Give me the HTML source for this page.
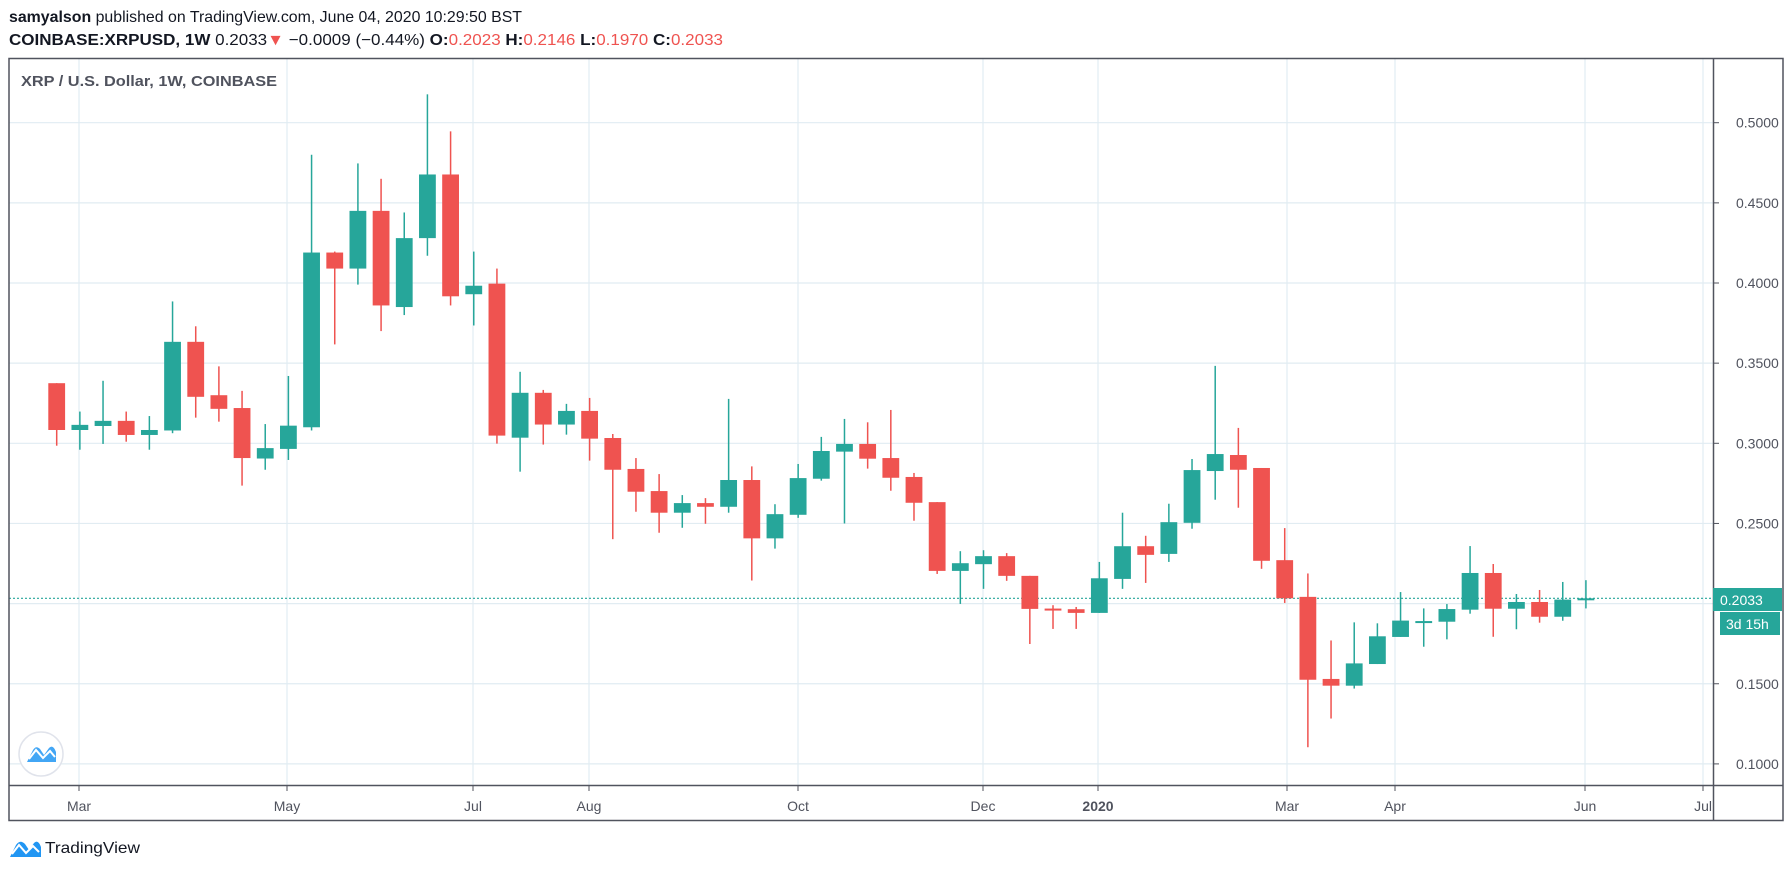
<!DOCTYPE html>
<html><head><meta charset="utf-8"><style>
html,body{margin:0;padding:0;background:#fff;width:1792px;height:871px;overflow:hidden}
svg text{font-family:"Liberation Sans",sans-serif}
</style></head><body>
<svg id="s" width="1792" height="871" xmlns="http://www.w3.org/2000/svg">
<text x="9" y="22" font-size="16" fill="#131722" textLength="513" lengthAdjust="spacingAndGlyphs"><tspan font-weight="bold">samyalson</tspan> published on TradingView.com, June 04, 2020 10:29:50 BST</text>
<text x="9" y="45" font-size="16" fill="#131722" textLength="714" lengthAdjust="spacingAndGlyphs"><tspan font-weight="bold">COINBASE:XRPUSD, 1W</tspan> 0.2033<tspan fill="#ef5350">▼</tspan> −0.0009 (−0.44%) <tspan font-weight="bold">O:</tspan><tspan fill="#ef5350">0.2023</tspan> <tspan font-weight="bold">H:</tspan><tspan fill="#ef5350">0.2146</tspan> <tspan font-weight="bold">L:</tspan><tspan fill="#ef5350">0.1970</tspan> <tspan font-weight="bold">C:</tspan><tspan fill="#ef5350">0.2033</tspan></text>
<g id="grid"></g>
<g id="c"></g>
<text x="21" y="86" font-size="15" font-weight="bold" fill="#50535e" textLength="256" lengthAdjust="spacingAndGlyphs">XRP / U.S. Dollar, 1W, COINBASE</text>
<rect x="9" y="58.5" width="1774" height="762" fill="none" stroke="#50535e" stroke-width="1.5"/>
<line x1="1713.5" y1="58" x2="1713.5" y2="821" stroke="#50535e" stroke-width="1.5"/>
<line x1="9" y1="785.5" x2="1783" y2="785.5" stroke="#50535e" stroke-width="1.5"/>
<circle cx="41" cy="754" r="22" fill="#fff" stroke="#e0e3eb" stroke-width="1.5"/>
<path d="M27 762 L33 750 Q36 745 40 749 L44 755 L49 748 Q53 744 56 752 L56 762 Z" fill="#2196f3" opacity="0.85"/>
<path d="M29 759 L36 750 L43 758 L50 751 L55 757" fill="none" stroke="#fff" stroke-width="2"/>
<path d="M10 857 L16 845 Q20 839 25 844 L29 850 L34 843 Q38 839 41 847 L41 857 Z" fill="#2196f3"/>
<path d="M12 854 L19 845 L26 853 L33 846 L39 852" fill="none" stroke="#fff" stroke-width="2"/>
<text x="45" y="853" font-size="16" fill="#131722" textLength="95" lengthAdjust="spacingAndGlyphs">TradingView</text>
<rect x="1713" y="588" width="69" height="23" fill="#26a69a"/>
<text x="1720" y="605" font-size="14" fill="#fff">0.2033</text>
<rect x="1720" y="612" width="60" height="23" fill="#26a69a"/>
<text x="1726" y="629" font-size="14" fill="#fff">3d 15h</text>
</svg>
<script>
const Y=p=>122.7+(0.5-p)*1603;
const NS="http://www.w3.org/2000/svg";
function el(par,t,a,txt){const e=document.createElementNS(NS,t);for(const k in a)e.setAttribute(k,a[k]);if(txt!==undefined)e.textContent=txt;document.getElementById(par).appendChild(e);return e;}
const vx=[[79,"Mar"],[287,"May"],[473,"Jul"],[589,"Aug"],[798,"Oct"],[983,"Dec"],[1098,"2020"],[1287,"Mar"],[1395,"Apr"],[1585,"Jun"],[1703,"Jul"]];
for(let i=1;i<=9;i++){const p=0.05+i*0.05;const y=Y(p);
 if(y>60&&y<785){el("grid","line",{x1:9,x2:1713,y1:y,y2:y,stroke:"#e1ecf2","stroke-width":1.2});
 el("grid","line",{x1:1713,x2:1719,y1:y,y2:y,stroke:"#50535e"});
 el("grid","text",{x:1736,y:y+5,"font-size":14,fill:"#50535e"},p.toFixed(4));}}
vx.forEach(([x,t])=>{el("grid","line",{x1:x,x2:x,y1:59,y2:785,stroke:"#e1ecf2","stroke-width":1.2});
 el("grid","line",{x1:x,x2:x,y1:785,y2:791,stroke:"#50535e"});
 const a={x:x,y:811,"font-size":14,fill:"#50535e","text-anchor":"middle"};
 if(t==="2020")a["font-weight"]="bold";
 if(x===1703){a["text-anchor"]="end";a.x=1712;}
 el("grid","text",a,t);});
el("grid","line",{x1:9,x2:1713,y1:Y(0.2033),y2:Y(0.2033),stroke:"#26a69a","stroke-width":1.2,"stroke-dasharray":"2,2"});
const D=[[.3375,.3083,.3375,.2985],[.3083,.3115,.3198,.296],[.3108,.314,.339,.2996],[.314,.3052,.3198,.301],[.3052,.3083,.317,.296],[.308,.3633,.3885,.3063],[.3633,.329,.373,.316],[.33,.3215,.348,.3135],[.322,.2908,.3327,.2736],[.2905,.297,.312,.2835],
[.2965,.311,.342,.2896],[.31,.419,.48,.308],[.419,.409,.4196,.3617],[.409,.445,.4746,.399],[.445,.386,.465,.37],[.385,.428,.444,.38],[.428,.4677,.5177,.417],[.4677,.3917,.4946,.386],[.393,.3983,.4196,.3735],[.3996,.3048,.409,.2998],
[.3035,.3315,.3446,.2823],[.3315,.3117,.3333,.2992],[.3117,.3202,.3246,.3054],[.3202,.3029,.3283,.2892],[.3033,.2835,.3058,.2402],[.284,.2698,.2908,.2573],[.2702,.2567,.2808,.2442],[.2567,.2627,.2677,.2473],[.2627,.2604,.2658,.2498],[.2604,.2771,.3277,.2567],
[.2771,.2407,.2856,.2144],[.2407,.2558,.262,.2343],[.2554,.2783,.2871,.2535],[.2779,.2952,.304,.2767],[.2948,.2996,.3152,.25],[.2996,.2904,.3131,.2842],[.2908,.2785,.3208,.2704],[.279,.2629,.2815,.2517],[.2633,.2204,.2633,.2185],[.2204,.2252,.2327,.1998],
[.2246,.2296,.2333,.2092],[.2296,.2173,.2315,.2142],[.2173,.1967,.2173,.1748],[.1969,.196,.199,.1842],[.1965,.1942,.1979,.1842],[.1942,.2158,.226,.1942],[.2154,.2358,.2567,.2092],[.2358,.2304,.2423,.2129],[.231,.2508,.2623,.226],[.2504,.2833,.2902,.2467],
[.2827,.2933,.3483,.2648],[.2927,.2835,.3096,.2598],[.2846,.2267,.2846,.2217],[.2271,.2033,.2471,.2004],[.2042,.1525,.2188,.1104],[.153,.1488,.177,.1283],[.1488,.1627,.1883,.147],[.1623,.1796,.1877,.1623],[.1792,.1894,.2072,.1792],[.1891,.1891,.197,.1731],
[.1887,.1966,.1997,.1777],[.1962,.2191,.2359,.1937],[.2191,.1968,.2247,.1793],[.1968,.201,.206,.184],[.201,.1918,.2085,.1881],[.1918,.2025,.2135,.1893],[.2023,.2033,.2146,.197]];
D.forEach((d,i)=>{const[o,c,h,l]=d;const x=56.7+i*23.17;const col=c>=o?"#26a69a":"#ef5350";
 el("c","rect",{x:x-0.75,y:Y(h),width:1.5,height:Math.max(1,Y(l)-Y(h)),fill:col});
 const t=Y(Math.max(o,c)),b=Y(Math.min(o,c));
 el("c","rect",{x:x-8.4,y:t,width:16.8,height:Math.max(2,b-t),fill:col});});
</script>
</body></html>
